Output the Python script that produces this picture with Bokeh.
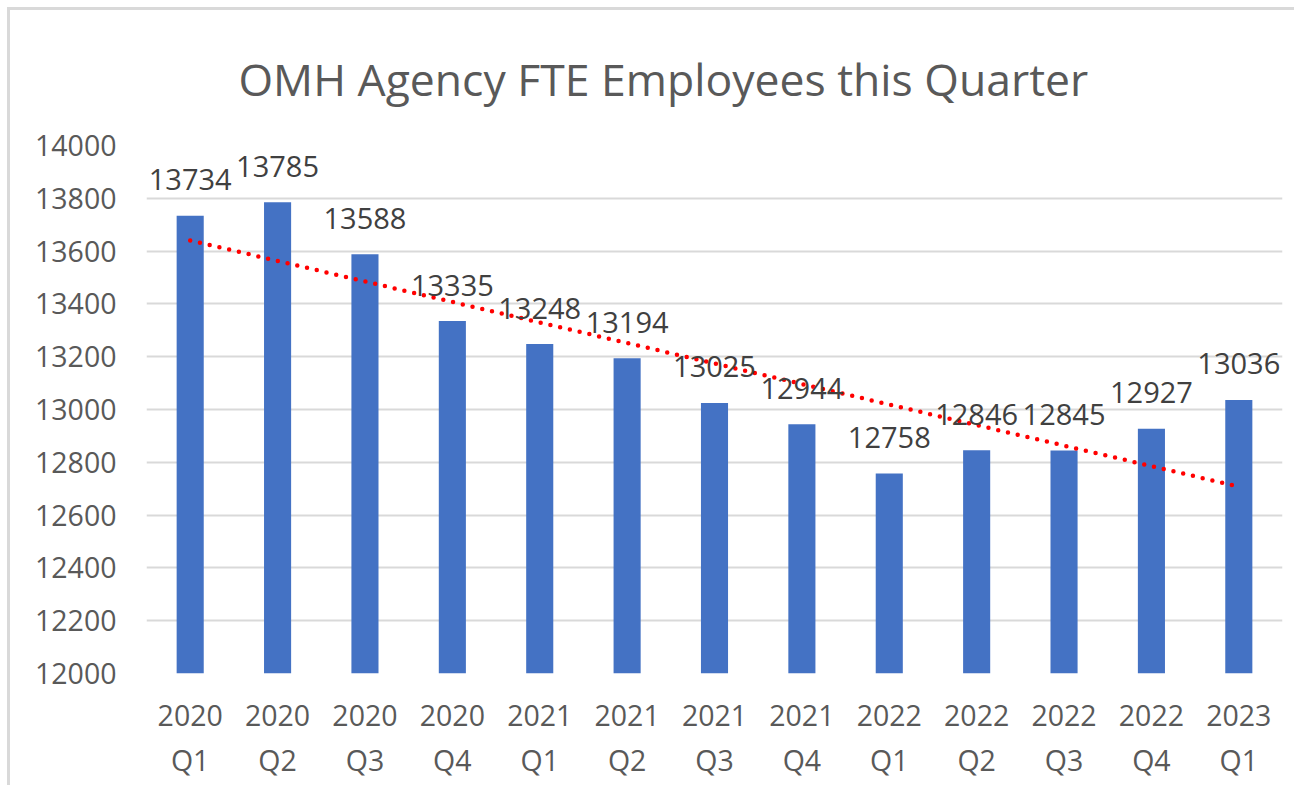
import numpy as np
from bokeh.plotting import figure
from bokeh.models import ColumnDataSource, FactorRange, Range1d, FixedTicker, Title
from bokeh.core.properties import value
from bokeh.embed import file_html
from bokeh.resources import INLINE

title_text = "OMH Agency FTE Employees this Quarter"
quarters = ["2020\nQ1", "2020\nQ2", "2020\nQ3", "2020\nQ4",
            "2021\nQ1", "2021\nQ2", "2021\nQ3", "2021\nQ4",
            "2022\nQ1", "2022\nQ2", "2022\nQ3", "2022\nQ4",
            "2023\nQ1"]
employees = [13734, 13785, 13588, 13335, 13248, 13194, 13025, 12944,
             12758, 12846, 12845, 12927, 13036]
y_ticks = [12000, 12200, 12400, 12600, 12800, 13000, 13200, 13400, 13600, 13800, 14000]

# linear trendline (least squares, like Excel's linear trendline)
idx = np.arange(1, len(employees) + 1)
slope, intercept = np.polyfit(idx, employees, 1)
trend = [float(slope * i + intercept) for i in idx]

FONT = "Open Sans"

src = ColumnDataSource(dict(q=quarters, v=employees, base=[12000] * len(employees),
                            lbl=[str(v) for v in employees], t=trend))

p = figure(x_range=FactorRange(factors=quarters, range_padding=0),
           y_range=Range1d(12000, 14000),
           width=1287, height=778, output_backend="svg", toolbar_location=None,
           min_border_left=136, min_border_right=15, min_border_top=135, min_border_bottom=115)
p.styles = {"border-left": "3px solid #d9d9d9", "border-top": "3px solid #d9d9d9",
            "margin-left": "7px", "margin-top": "7px"}

p.title = Title(text=title_text, align="left", offset=92, vertical_align="top",
                text_font=FONT, text_font_size="44.5px", text_font_style="normal",
                text_color="#595959")
p.title.standoff = 69

p.vbar(x="q", top="v", bottom="base", width=0.31, source=src,
       fill_color="#4472C4", line_color=None)
p.line(x="q", y="t", source=src, line_color="#FF0000", line_width=4.5,
       line_dash="0 10", line_cap="round")
p.text(x="q", y="v", text="lbl", source=src, text_align="center",
       text_baseline="alphabetic", y_offset=-36,
       text_font=value(FONT), text_font_size="29px", text_color="#404040")

p.outline_line_color = None
p.background_fill_color = "white"
p.border_fill_color = "white"
p.xgrid.grid_line_color = None
p.ygrid.grid_line_color = "#D9D9D9"
p.ygrid.grid_line_width = 2
p.yaxis.ticker = FixedTicker(ticks=y_ticks)

for ax in (p.xaxis, p.yaxis):
    ax.axis_line_color = None
    ax.major_tick_line_color = None
    ax.minor_tick_line_color = None
    ax.major_label_text_font = FONT
    ax.major_label_text_font_size = "28.5px"
    ax.major_label_text_color = "#595959"
p.yaxis.major_label_standoff = 24
p.xaxis.major_label_standoff = 16

open("out.html", "w").write(file_html(p, INLINE))
